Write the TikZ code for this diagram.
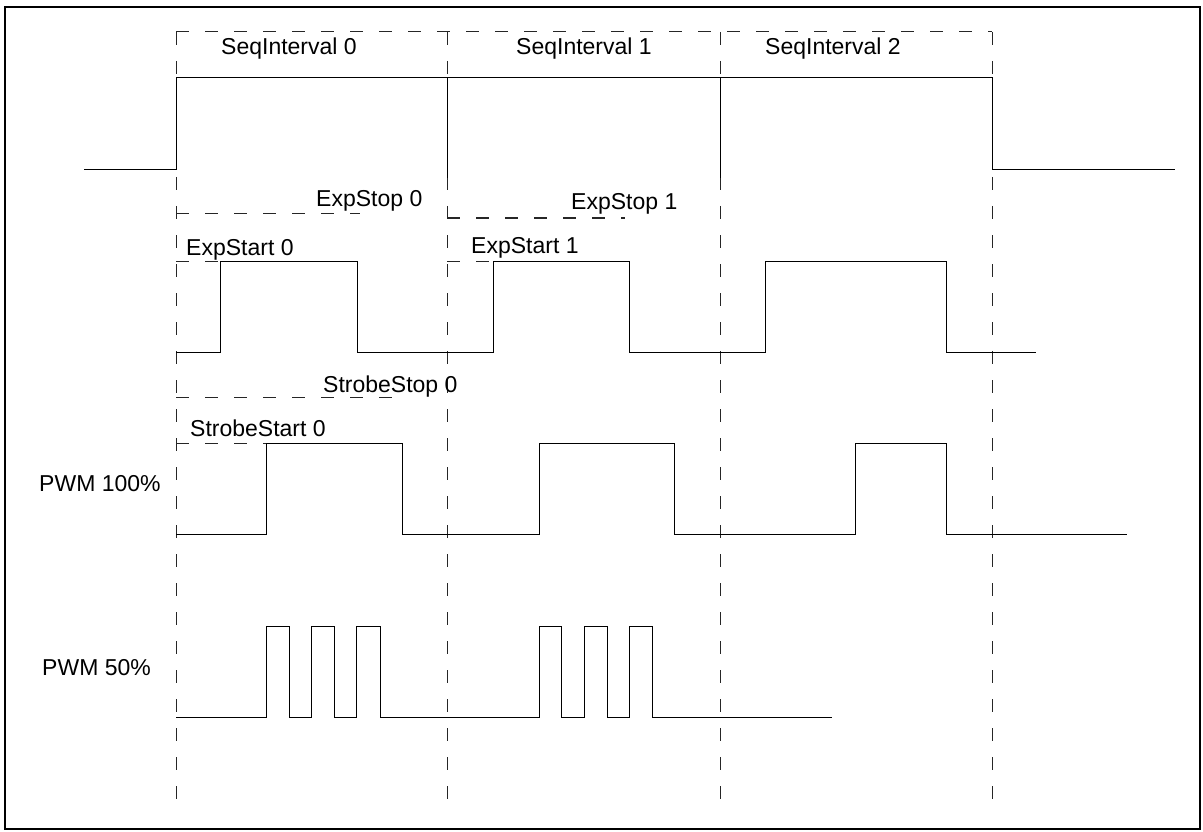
\documentclass[tikz,border=0pt]{standalone}
\usepackage{fontspec}
\setmainfont{Liberation Sans}
\usepackage{tikz}

\tikzset{
    sig/.style={line width=1pt, black},
    guide/.style={line width=1pt, black!85, dash pattern=on 13pt off 16pt},
    lbl/.style={anchor=base west, inner sep=0pt, font=\fontsize{23}{27}\selectfont}
}

\begin{document}
\begin{tikzpicture}[x=1pt, y=-1pt]
    \useasboundingbox (0,0) rectangle (1203,832);
    \draw[line width=2.5pt] (5,7) rectangle (1200,829);

    % interval guides
    \draw[guide] (176,32) -- (992,32);
    \draw[guide] (176,32) -- (176,808);
    \draw[guide] (447,32) -- (447,808);
    \draw[guide] (720,32) -- (720,808);
    \draw[guide] (992,32) -- (992,808);
    \draw[guide] (176,214) -- (360,214);
    \draw[guide] (447,218) -- (625,218);
    \draw[guide] (176,261) -- (220,261);
    \draw[guide] (447,261) -- (493,261);
    \draw[guide] (176,397) -- (403,397);
    \draw[guide] (176,443) -- (266,443);

    % sequence signal
    \draw[sig] (84,170) -- (176,170) -- (176,78) -- (992,78) -- (992,170) -- (1175,170);
    \draw[sig] (447,78) -- (447,178);
    \draw[sig] (720,78) -- (720,178);

    % exposure signal
    \draw[sig] (176,352) -| (220,261) -| (357,352) -| (493,261) -| (629,352) -| (765,261) -| (946,352) -- (1036,352);

    % strobe signals
    \draw[sig] (176,534) -| (266,443) -| (402,534) -| (539,443) -| (674,534) -| (855,443) -| (946,534) -- (1127,534);
    \draw[sig] (176,717) -| (266,626) -| (289,717) -| (311,626) -| (334,717) -| (356,626) -| (380,717)
        -| (539,626) -| (561,717) -| (584,626) -| (607,717) -| (629,626) -| (652,717) -- (832,717);

    \node[lbl] (seq0) at (221,55) {SeqInterval 0};
    \node[lbl] (seq1) at (516,55) {SeqInterval 1};
    \node[lbl] (seq2) at (765,55) {SeqInterval 2};
    \node[lbl] (expstop0) at (316,207) {ExpStop 0};
    \node[lbl] (expstop1) at (571,210) {ExpStop 1};
    \node[lbl] (expstart0) at (186,255) {ExpStart 0};
    \node[lbl] (expstart1) at (471,253) {ExpStart 1};
    \node[lbl] (strobestop0) at (323,392) {StrobeStop 0};
    \node[lbl] (strobestart0) at (190,436) {StrobeStart 0};
    \node[lbl] (pwmfull) at (39,491) {PWM 100\%};
    \node[lbl] (pwmhalf) at (42,675) {PWM 50\%};
\end{tikzpicture}
\end{document}
